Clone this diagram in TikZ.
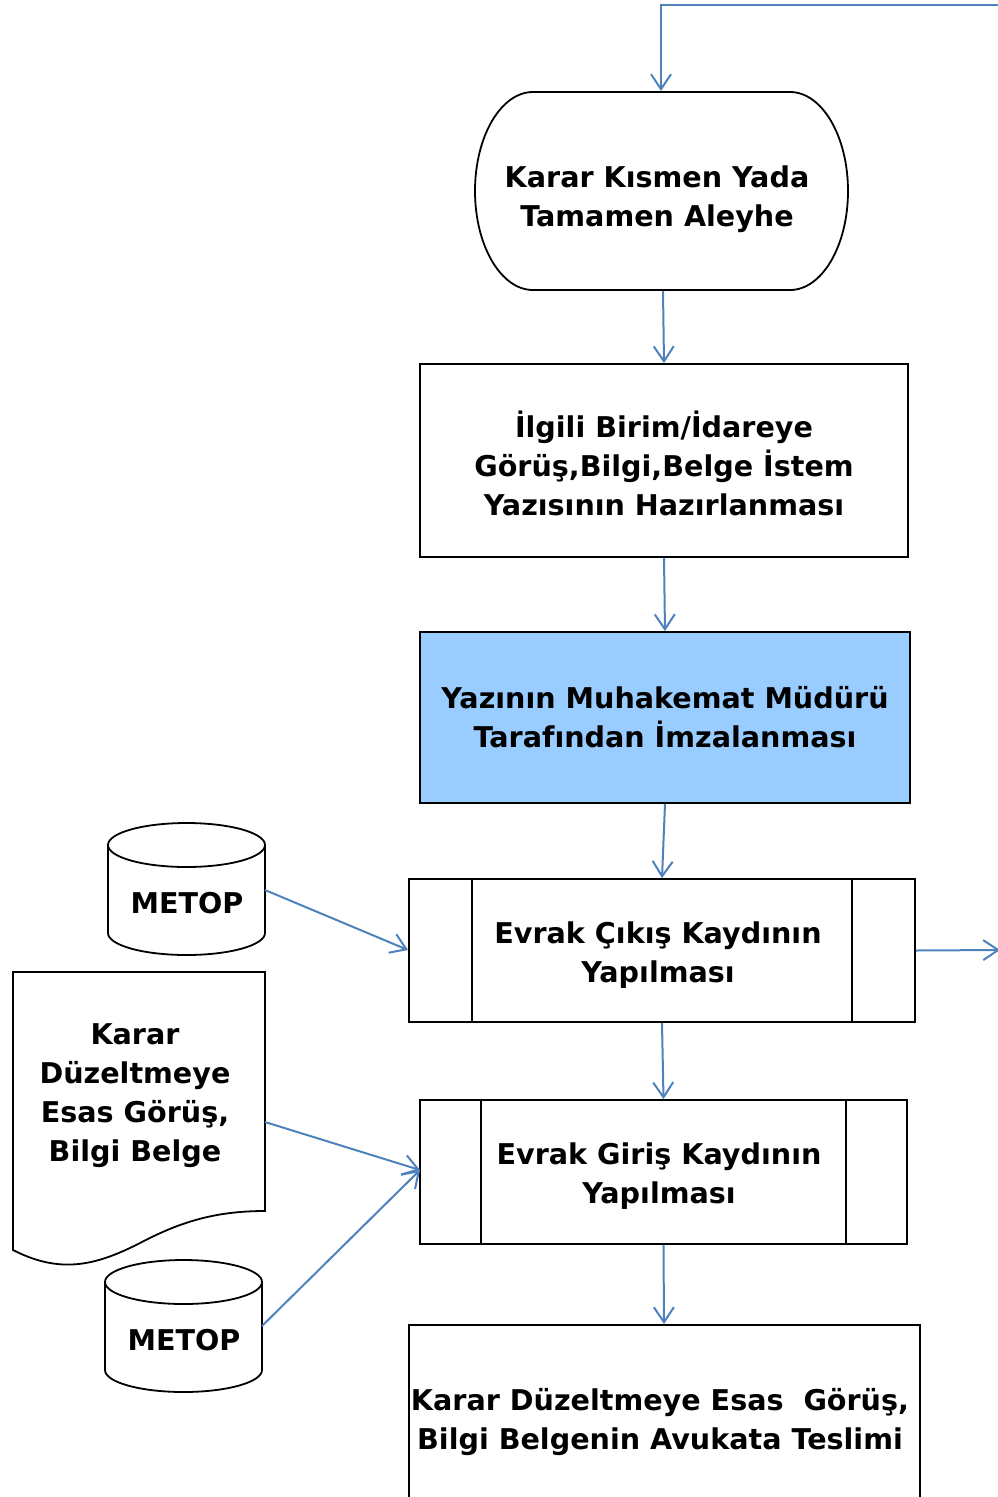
\documentclass[tikz,border=0pt]{standalone}
\usepackage{fontspec}
\setmainfont{DejaVu Sans}
\usetikzlibrary{arrows.meta,shapes.geometric}
\definecolor{lnblue}{HTML}{4F81BD}
\definecolor{boxblue}{HTML}{99CCFF}
\begin{document}
\begin{tikzpicture}[x=1pt,y=1pt,
  conn/.style={draw=lnblue,line width=2pt,-{Straight Barb[length=15pt,width=20pt,line width=2pt]}},
  shp/.style={draw=black,line width=1.8pt},
  txt/.style={font=\bfseries\fontsize{28.6}{39}\selectfont,align=center,inner sep=0pt},
  procbox/.style={shp,rectangle,inner sep=0pt}
]
\useasboundingbox (0,0) rectangle (997,-1497);
% terminal
\draw[shp] (533,-92) -- (790,-92) arc[start angle=90,end angle=-90,x radius=58pt,y radius=99pt]
  -- (533,-290) arc[start angle=270,end angle=90,x radius=58pt,y radius=99pt] -- cycle;
\node[txt] (t1) at (657,-199) {Karar Kısmen Yada\\Tamamen Aleyhe};
\coordinate (t1top) at (661,-91);
\coordinate (t1bot) at (663,-291);
\coordinate (topright) at (1000,-5);
\coordinate (topleft) at (661,-5);
\draw[conn] (topright) -- (topleft) -- (t1top);
% box 2
\node[procbox,minimum width=488pt,minimum height=193pt] (b2) at (664,-460.5) {};
\node[txt] (b2t) at ([yshift=-3pt]b2.center) {İlgili Birim/İdareye\\Görüş,Bilgi,Belge İstem\\Yazısının Hazırlanması};
\draw[conn] (t1bot) -- (b2.north);
% box 3
\node[procbox,fill=boxblue,minimum width=490pt,minimum height=171pt] (b3) at (665,-717.5) {};
\node[txt] (b3t) at ([yshift=0pt]b3.center) {Yazının Muhakemat Müdürü\\Tarafından İmzalanması};
\draw[conn] (b2.south) -- (b3.north);
% box 4
\node[procbox,minimum width=506pt,minimum height=143pt] (b4) at (662,-950.5) {};
\draw[shp] (472,-879) -- (472,-1022) (852,-879) -- (852,-1022);
\node[txt] (b4t) at (658,-955) {Evrak Çıkış Kaydının\\Yapılması};
\draw[conn] (b3.south) -- (b4.north);
\coordinate (outr) at (1000,-950);
\draw[conn] (b4.east) -- (outr);
% box 5
\node[procbox,minimum width=487pt,minimum height=144pt] (b5) at (663.5,-1172) {};
\draw[shp] (481,-1100) -- (481,-1244) (846,-1100) -- (846,-1244);
\node[txt] (b5t) at (659,-1176) {Evrak Giriş Kaydının\\Yapılması};
\draw[conn] (b4.south) -- (b5.north);
% box 6
\draw[shp] (409,-1505) -- (409,-1325) -- (920,-1325) -- (920,-1505);
\coordinate (b6top) at (664,-1324);
\node[txt] (b6t) at (660,-1422) {Karar Düzeltmeye Esas\ \ Görüş,\\Bilgi Belgenin Avukata Teslimi};
\draw[conn] (b5.south) -- (b6top);
% cylinder 1
\draw[shp] (108,-845) -- (108,-933) arc[start angle=180,end angle=360,x radius=78.5pt,y radius=22pt]
  -- (265,-845) arc[start angle=0,end angle=180,x radius=78.5pt,y radius=22pt] -- cycle;
\draw[shp] (108,-845) arc[start angle=180,end angle=360,x radius=78.5pt,y radius=22pt];
\node[txt] (c1) at (187,-903) {METOP};
\coordinate (c1r) at (265,-890);
\coordinate (b4in) at (408,-950);
\draw[conn] (c1r) -- (b4in);
% document
\draw[shp] (13,-972) -- (265,-972) -- (265,-1211)
  .. controls (215,-1211) and (180,-1222) .. (140,-1243)
  .. controls (95,-1266) and (60,-1274) .. (13,-1250) -- cycle;
\node[txt] (doc) at (135,-1096) {Karar\\Düzeltmeye\\Esas Görüş,\\Bilgi Belge};
\coordinate (docr) at (265,-1122);
\coordinate (b5in) at (420,-1170);
\draw[conn] (docr) -- (b5in);
% cylinder 2
\draw[shp] (105,-1282) -- (105,-1370) arc[start angle=180,end angle=360,x radius=78.5pt,y radius=22pt]
  -- (262,-1282) arc[start angle=0,end angle=180,x radius=78.5pt,y radius=22pt] -- cycle;
\draw[shp] (105,-1282) arc[start angle=180,end angle=360,x radius=78.5pt,y radius=22pt];
\node[txt] (c2) at (184,-1340) {METOP};
\coordinate (c2r) at (262,-1326);
\draw[conn] (c2r) -- (b5in);
\end{tikzpicture}
\end{document}
